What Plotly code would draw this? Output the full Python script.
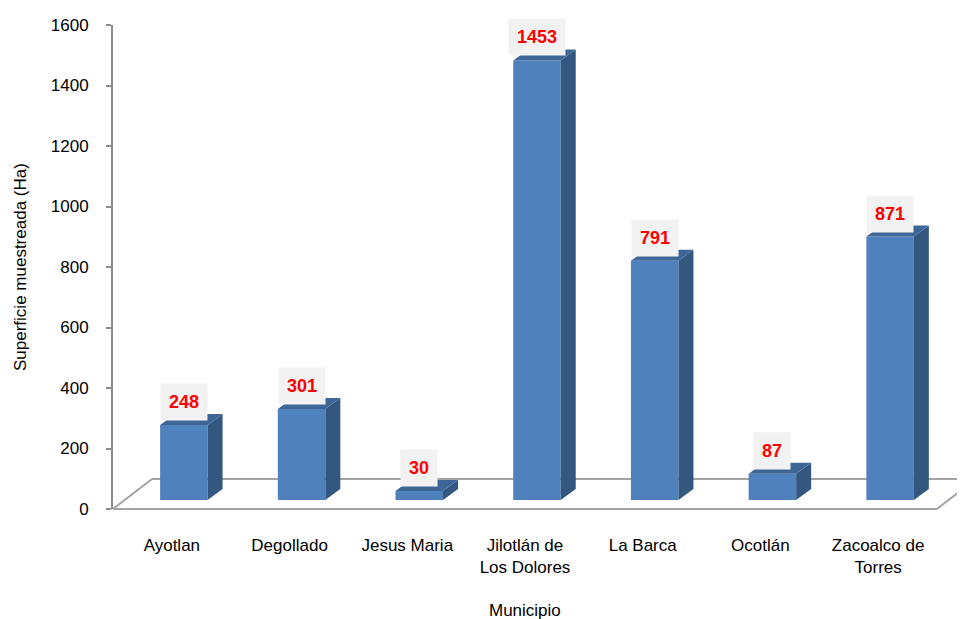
import plotly.graph_objects as go

# ---- data ----
categories = ["Ayotlan", "Degollado", "Jesus Maria", "Jilotlán de<br>Los Dolores",
              "La Barca", "Ocotlán", "Zacoalco de<br>Torres"]
values = [248, 301, 30, 1453, 791, 87, 871]
y_ticks = [0, 200, 400, 600, 800, 1000, 1200, 1400, 1600]

# ---- geometry (page has an 8px body margin) ----
OFF = 8
W, H = 965 - OFF, 619 - OFF
ML, MT = 113 - OFF, 25 - OFF
PLOT_H = 484
MB = H - MT - PLOT_H
MR = 0
PLOT_W = W - ML - MR
PX_X = 117.71               # pixels per category
YMAX = 1600
PX_Y = PLOT_H / YMAX        # pixels per unit value


def ux(px):
    return px / PX_X


def uy(px):
    return px / PX_Y


X0 = -0.5
X1 = X0 + PLOT_W / PX_X
n = len(categories)
xs = list(range(n))

bar_off_x = ux(12)
bar_base = uy(9)
bar_w = ux(47.5)
depth_x = ux(15)
depth_y = uy(11)
floor_x = ux(39)
floor_y = uy(30)

FRONT = "#4f81bd"
SIDE = "#34577f"
TOP = "#3e6697"

fig = go.Figure()

fig.add_trace(go.Bar(
    x=[i + bar_off_x for i in xs], y=values, base=bar_base, width=bar_w,
    marker=dict(color=FRONT, line=dict(width=0)), hoverinfo="skip", showlegend=False))

side_x, side_y, top_x, top_y = [], [], [], []
for i, v in zip(xs, values):
    xl = i + bar_off_x - bar_w / 2
    xr = i + bar_off_x + bar_w / 2
    b = bar_base
    t = bar_base + v
    side_x += [xr, xr + depth_x, xr + depth_x, xr, xr, None]
    side_y += [b, b + depth_y, t + depth_y, t, b, None]
    top_x += [xl, xl + depth_x, xr + depth_x, xr, xl, None]
    top_y += [t, t + depth_y, t + depth_y, t, t, None]

fig.add_trace(go.Scatter(x=side_x, y=side_y, mode="lines", fill="toself",
                         fillcolor=SIDE, line=dict(width=0, color=SIDE),
                         hoverinfo="skip", showlegend=False))
fig.add_trace(go.Scatter(x=top_x, y=top_y, mode="lines", fill="toself",
                         fillcolor=TOP, line=dict(width=0, color=TOP),
                         hoverinfo="skip", showlegend=False))


def px_(xd):
    return (xd - X0) / (X1 - X0)


def py_(yd):
    return yd / YMAX


floor_color = "#a3a3a3"
xa, xb = -0.5, n - 0.5
segs = [
    ((xa, 0), (xb, 0)),
    ((xa, 0), (xa + floor_x, floor_y)),
    ((xb, 0), (xb + floor_x, floor_y)),
    ((xa + floor_x, floor_y), (xb + floor_x, floor_y)),
]
shapes = []
for (a, b) in segs:
    shapes.append(dict(type="line", xref="paper", yref="paper",
                       x0=px_(a[0]), y0=py_(a[1]), x1=px_(b[0]), y1=py_(b[1]),
                       line=dict(color=floor_color, width=2), layer="below"))

annotations = []
for i, v in zip(xs, values):
    annotations.append(dict(
        x=i + bar_off_x, y=bar_base + v, xref="x", yref="y", text=str(v),
        showarrow=False, yshift=23, xanchor="center", yanchor="middle",
        font=dict(family="Liberation Sans, Arial", size=18, color="#ff0000", weight="bold"),
        bgcolor="#f2f2f2", borderpad=8))

# page-pixel positions of the axis titles
ytitle_x_page, xtitle_y_page = 20, 610
plot_bottom_page = MT + PLOT_H + OFF
annotations.append(dict(
    text="Superficie muestreada (Ha)", xref="paper", yref="paper",
    x=(ytitle_x_page - OFF - ML) / PLOT_W, y=0.5, xanchor="center", yanchor="middle",
    textangle=-90, showarrow=False,
    font=dict(family="Liberation Sans, Arial", size=17, color="#000000")))
annotations.append(dict(
    text="Municipio", xref="x", yref="paper",
    x=(n - 1) / 2, y=-(xtitle_y_page - plot_bottom_page) / PLOT_H,
    xanchor="center", yanchor="middle", showarrow=False,
    font=dict(family="Liberation Sans, Arial", size=17, color="#000000")))

fig.update_layout(
    width=W, height=H,
    margin=dict(l=ML, r=MR, t=MT, b=MB, pad=0),
    paper_bgcolor="white", plot_bgcolor="white",
    font=dict(family="Liberation Sans, Arial", size=17, color="#000000"),
    shapes=shapes, annotations=annotations, showlegend=False,
    xaxis=dict(range=[X0, X1], tickvals=xs, ticktext=categories,
               showgrid=False, zeroline=False, showline=False, ticks="",
               ticklabelstandoff=24, automargin=False, fixedrange=True),
    yaxis=dict(range=[0, YMAX], tickvals=y_ticks, ticktext=[str(t) for t in y_ticks],
               showgrid=False, zeroline=False, showline=True, linecolor="#8c8c8c",
               linewidth=2, ticks="outside", ticklen=5, tickwidth=2, tickcolor="#8c8c8c",
               ticklabelstandoff=14, automargin=False, fixedrange=True),
)

fig.write_html("out.html")
